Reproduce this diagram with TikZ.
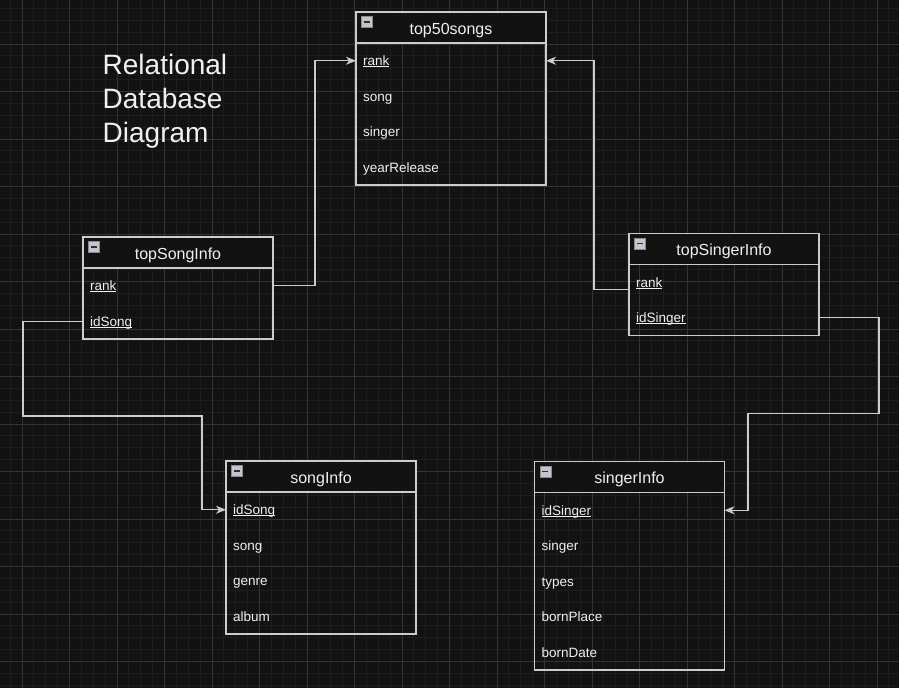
\documentclass[tikz,border=0pt]{standalone}
\usepackage{fontspec}
\setmainfont{Liberation Sans}
\usetikzlibrary{arrows.meta}
\definecolor{bg}{HTML}{121212}
\definecolor{gminor}{HTML}{1D1D1D}
\definecolor{gmajor}{HTML}{333333}
\definecolor{edge}{HTML}{CCCCCC}
\definecolor{txt}{HTML}{F0F0F0}
\definecolor{iconfill}{HTML}{C4C6CE}
\definecolor{iconedge}{HTML}{8A8A90}
\definecolor{iconbar}{HTML}{303030}
\newcommand\keyul[1]{\setbox0\hbox{#1}\rlap{\rule[-1.8pt]{\wd0}{0.9pt}}\box0}
\tikzset{
  hdr/.style={draw=edge, line width=1.2pt, fill=bg, minimum width=190pt, minimum height=31pt, inner sep=0pt, outer sep=0pt, anchor=north west},
  tbody/.style={draw=edge, line width=1.2pt, minimum width=190pt, inner sep=0pt, outer sep=0pt, anchor=north west},
  htitle/.style={text=txt, font=\fontsize{16}{19}\selectfont, anchor=base, inner sep=0pt},
  rowtxt/.style={text=txt, font=\fontsize{13.5}{16}\selectfont, anchor=base west, inner sep=0pt, text height=10pt, text depth=0.5pt},
  icon/.style={fill=iconfill, draw=iconedge, line width=0.6pt, minimum size=11pt, inner sep=0pt, anchor=north west,
    path picture={\draw[iconbar, line width=1.6pt] ([xshift=2.5pt]path picture bounding box.west) -- ([xshift=-2.5pt]path picture bounding box.east);}},
  conn/.style={draw=edge, line width=1.2pt, -{Stealth[length=10pt,width=8pt,inset=3pt]}},
  bigtitle/.style={text=txt, font=\fontsize{28}{34}\selectfont, anchor=base west, inner sep=0pt},
}
\begin{document}
\begin{tikzpicture}[x=1pt,y=-1pt]
\useasboundingbox (0,0) rectangle (899,688);
\clip (0,0) rectangle (899,688);
\fill[bg] (0,0) rectangle (899,688);
% grid
\foreach \i in {0,...,75} {\draw[gminor, line width=1pt] ({10.125+11.875*\i},0) -- ++(0,688);}
\foreach \i in {1,...,58} {\draw[gminor, line width=1pt] (0,{-3.5+11.875*\i}) -- ++(899,0);}
\foreach \i in {0,...,18} {\draw[gmajor, line width=1pt] ({22+47.5*\i},0) -- ++(0,688);}
\foreach \i in {0,...,13} {\draw[gmajor, line width=1pt] (0,{44+47.5*\i}) -- ++(899,0);}

% title
\node[bigtitle] (title1) at (102.5,74.3) {Relational};
\node[bigtitle] (title2) at (102.5,108.5) {Database};
\node[bigtitle] (title3) at (102.5,142.5) {Diagram};

% top50songs
\node[hdr] (t50h) at (356,12) {};
\node[tbody, minimum height=142pt] (t50) at (356,43) {};
\node[icon] (t50i) at (361,16) {};
\node[htitle] (t50t) at (451,34) {top50songs};
\node[rowtxt] (t50rank) at (363,65.5) {\keyul{rank}};
\node[rowtxt] (t50song) at (363,101) {song};
\node[rowtxt] (t50singer) at (363,136.5) {singer};
\node[rowtxt] (t50year) at (363,172) {yearRelease};

% topSongInfo
\node[hdr] (tsongh) at (83,237) {};
\node[tbody, minimum height=71pt] (tsong) at (83,268) {};
\node[icon] (tsongi) at (88,241) {};
\node[htitle] (tsongt) at (178,259) {topSongInfo};
\node[rowtxt] (tsongrank) at (90,290.5) {\keyul{rank}};
\node[rowtxt] (tsongid) at (90,326) {\keyul{idSong}};

% topSingerInfo
\node[hdr] (tsingh) at (629,233.5) {};
\node[tbody, minimum height=71pt] (tsing) at (629,264.5) {};
\node[icon] (tsingi) at (634,237.5) {};
\node[htitle] (tsingt) at (724,255.5) {topSingerInfo};
\node[rowtxt] (tsingrank) at (636,287) {\keyul{rank}};
\node[rowtxt] (tsingid) at (636,322.5) {\keyul{idSinger}};

% songInfo
\node[hdr] (songh) at (226,461) {};
\node[tbody, minimum height=142pt] (song) at (226,492) {};
\node[icon] (songi) at (231,465) {};
\node[htitle] (songt) at (321,483) {songInfo};
\node[rowtxt] (songid) at (233,514.5) {\keyul{idSong}};
\node[rowtxt] (songsong) at (233,550) {song};
\node[rowtxt] (songgenre) at (233,585.5) {genre};
\node[rowtxt] (songalbum) at (233,621) {album};

% singerInfo
\node[hdr] (singh) at (534.5,461.5) {};
\node[tbody, minimum height=177.5pt] (singer) at (534.5,492.5) {};
\node[icon] (singi) at (539.5,465.5) {};
\node[htitle] (singt) at (629.5,483.5) {singerInfo};
\node[rowtxt] (singid) at (541.5,515) {\keyul{idSinger}};
\node[rowtxt] (singsinger) at (541.5,550.5) {singer};
\node[rowtxt] (singtypes) at (541.5,586) {types};
\node[rowtxt] (singplace) at (541.5,621.5) {bornPlace};
\node[rowtxt] (singdate) at (541.5,657) {bornDate};

% bend points
\coordinate (j1) at (315,0);
\coordinate (j2) at (594,0);
\coordinate (j3) at (23,416);
\coordinate (j4) at (202,0);
\coordinate (j5) at (879,413.3);
\coordinate (j6) at (748,0);

% connectors
\draw[conn] (tsongrank -| tsong.east) -| (j1 |- t50rank) -- (t50rank -| t50.west);
\draw[conn] ([yshift=-7pt]tsingrank -| tsing.west) -| (j2 |- t50rank) -- (t50rank -| t50.east);
\draw[conn] (tsongid -| tsong.west) -| (j3) -| (j4 |- songid) -- (songid -| song.west);
\draw[conn] (tsingid -| tsing.east) -| (j5) -| (j6 |- singid) -- (singid -| singer.east);
\end{tikzpicture}
\end{document}
